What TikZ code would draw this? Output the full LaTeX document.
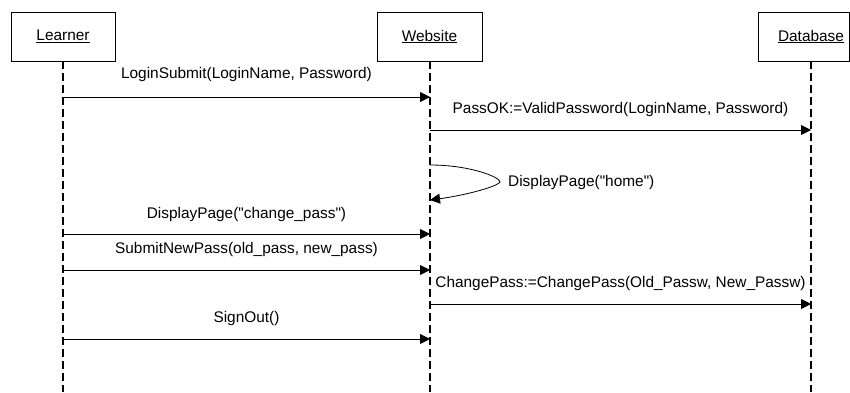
\documentclass[tikz,border=0pt]{standalone}
\usepackage{fontspec}
\setmainfont{Liberation Sans}
\usetikzlibrary{arrows.meta}
\begin{document}
\begin{tikzpicture}[x=1pt,y=-1pt,
  every node/.style={font=\fontsize{15.4}{18}\selectfont},
  obj/.style={draw, line width=0.8pt, minimum width=104pt, minimum height=49pt, inner sep=0pt},
  life/.style={line width=1.6pt, dash pattern=on 8pt off 4pt},
  msg/.style={line width=0.8pt, -{Triangle[length=10pt,width=10pt]}},
  lbl/.style={inner sep=0pt}]
\useasboundingbox (0,0) rectangle (850,392);
% objects
\node[obj] (L) at (63,36.5) {\underline{Learner}};
\node[obj, minimum width=105pt] (W) at (429.5,36.5) {\underline{Website}};
\node[obj, minimum width=91pt] (D) at (803.5,36.5) {};
\node[lbl] (Dt) at (811,36.5) {\underline{Database}};
% lifelines
\coordinate (Lt) at (63,61);   \coordinate (Lb) at (63,392);
\coordinate (Wt) at (430,61);  \coordinate (Wb) at (430,392);
\coordinate (Dl) at (811,61);  \coordinate (Dbot) at (811,392);
\draw[life] (Lt) -- (Lb);
\draw[life] (Wt) -- (Wb);
\draw[life] (Dl) -- (Dbot);
% message endpoints
\coordinate (L1) at (63,97);  \coordinate (W1) at (430,97);
\coordinate (W2) at (430,130); \coordinate (D2) at (811,130);
\coordinate (W3a) at (430,165); \coordinate (W3b) at (430,200);
\coordinate (L4) at (63,234); \coordinate (W4) at (430,234);
\coordinate (L5) at (63,270); \coordinate (W5) at (430,270);
\coordinate (W6) at (430,304); \coordinate (D6) at (811,304);
\coordinate (L7) at (63,339); \coordinate (W7) at (430,339);
% messages
\draw[msg] (L1) -- (W1);
\node[lbl] (m1) at (246.5,75) {LoginSubmit(LoginName, Password)};
\draw[msg] (W2) -- (D2);
\node[lbl] (m2) at (620.5,110) {PassOK:=ValidPassword(LoginName, Password)};
\draw[msg] (W3a) .. controls (470,165) and (500,177) .. (500,182) .. controls (495,188) and (460,196) .. (W3b);
\node[lbl, anchor=west] (m3) at (508,183) {DisplayPage(\textquotedbl home\textquotedbl)};
\draw[msg] (L4) -- (W4);
\node[lbl] (m4) at (246.5,215) {DisplayPage(\textquotedbl change\_pass\textquotedbl)};
\draw[msg] (L5) -- (W5);
\node[lbl] (m5) at (246.5,250) {SubmitNewPass(old\_pass, new\_pass)};
\draw[msg] (W6) -- (D6);
\node[lbl] (m6) at (620.5,284) {ChangePass:=ChangePass(Old\_Passw, New\_Passw)};
\draw[msg] (L7) -- (W7);
\node[lbl] (m7) at (246.5,319) {SignOut()};
\end{tikzpicture}
\end{document}
